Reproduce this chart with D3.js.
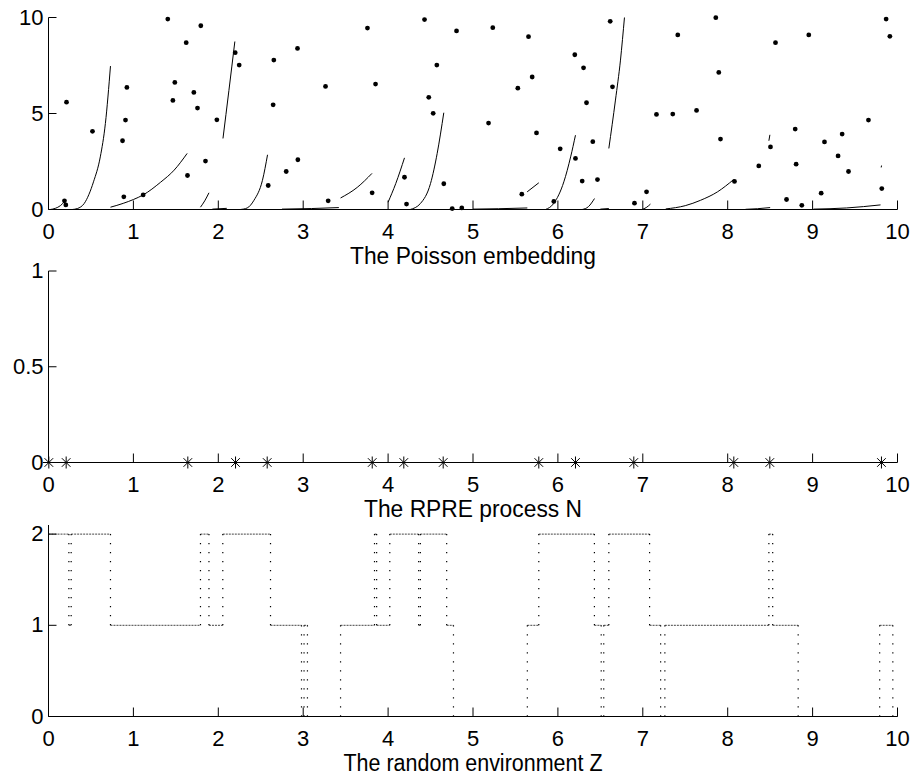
<!DOCTYPE html>
<html>
<head>
<meta charset="utf-8">
<script src="https://cdn.jsdelivr.net/npm/d3@7"></script>
<style>
  body { margin: 0; background: #fff; }
  svg { display: block; }
  text { font-family: "Liberation Sans", Arial, Helvetica, sans-serif; fill: #000; }
</style>
</head>
<body>
<svg id="chart" width="914" height="778"></svg>
<script>
// ---- data ----------------------------------------------------------------
const xTicks = [0, 1, 2, 3, 4, 5, 6, 7, 8, 9, 10];

// Poisson points of the embedding (time, height)
const pointT = [0.212, 0.188, 0.204, 0.518, 0.923, 0.907, 0.872, 0.887, 1.115, 1.405,
  1.794, 1.622, 1.488, 1.465, 1.712, 1.755, 1.637, 1.849, 1.983, 2.199,
  2.246, 2.654, 2.646, 2.933, 2.937, 2.80, 2.588, 3.263, 3.294, 3.757,
  3.852, 3.812, 4.193, 4.217, 4.429, 4.806, 4.574, 4.479, 4.531, 4.656,
  4.755, 4.868, 5.233, 5.654, 5.183, 5.697, 5.528, 5.748, 5.575, 5.952,
  6.027, 6.199, 6.302, 6.337, 6.411, 6.207, 6.286, 6.466, 6.616, 6.643,
  6.902, 7.044, 7.161, 7.353, 7.412, 7.86, 7.895, 7.633, 7.915, 8.08,
  8.563, 8.955, 8.366, 8.504, 8.795, 8.806, 8.693, 8.873, 9.14, 9.348,
  9.30, 9.423, 9.101, 9.658, 9.815, 9.866, 9.91];
const pointH = [5.59, 0.45, 0.24, 4.07, 6.36, 4.66, 3.58, 0.66, 0.76, 9.92,
  9.57, 8.69, 6.62, 5.68, 6.10, 5.28, 1.77, 2.52, 4.67, 8.17,
  7.52, 7.78, 5.45, 8.39, 2.59, 1.98, 1.25, 6.41, 0.45, 9.45,
  6.53, 0.87, 1.68, 0.28, 9.89, 9.30, 7.52, 5.84, 5.01, 1.34,
  0.05, 0.08, 9.47, 9.00, 4.50, 6.90, 6.32, 3.99, 0.80, 0.42,
  3.16, 8.06, 7.38, 5.56, 3.53, 2.66, 1.48, 1.56, 9.80, 6.39,
  0.33, 0.92, 4.95, 4.97, 9.09, 9.99, 7.14, 5.16, 3.67, 1.46,
  8.69, 9.09, 2.27, 3.26, 4.19, 2.36, 0.52, 0.22, 3.52, 3.93,
  2.79, 1.98, 0.85, 4.66, 1.09, 9.92, 9.02];

// Integrated intensity arcs between the points (time, level)
const intensityArcs = [
  [[0.02, 0], [0.08, 0.06], [0.14, 0.2], [0.19, 0.42]],
  [[0.28, 0], [0.34, 0.05], [0.42, 0.31], [0.53, 1.44], [0.61, 2.74], [0.67, 4.48], [0.73, 7.47]],
  [[0.73, 0.12], [0.88, 0.32], [1.0, 0.52], [1.115, 0.76], [1.32, 1.42], [1.48, 2.05], [1.633, 2.92]],
  [[1.79, 0.12], [1.84, 0.45], [1.89, 0.87]],
  [[1.93, 0.02], [2.1, 0.06]],
  [[2.055, 3.7], [2.125, 6.2], [2.195, 8.75]],
  [[2.26, 0], [2.34, 0.08], [2.42, 0.48], [2.52, 1.52], [2.58, 2.85]],
  [[2.75, 0.02], [3.1, 0.05], [3.42, 0.1]],
  [[3.44, 0.6], [3.636, 1.15], [3.81, 1.88]],
  [[4.0, 0.38], [4.09, 1.35], [4.193, 2.69]],
  [[4.26, 0], [4.38, 0.31], [4.5, 1.36], [4.578, 2.92], [4.656, 5.04]],
  [[5.0, 0.02], [5.3, 0.04], [5.64, 0.08]],
  [[5.638, 0.92], [5.775, 1.39]],
  [[5.854, 0], [5.95, 0.31], [6.07, 1.44], [6.15, 2.74], [6.207, 3.87]],
  [[6.286, 0], [6.36, 0.15], [6.431, 0.57]],
  [[6.5, 0.02], [6.6, 0.05]],
  [[6.6, 3.18], [6.678, 5.7], [6.737, 7.78], [6.784, 10.0]],
  [[6.99, 0], [7.04, 0.1], [7.09, 0.28]],
  [[7.27, 0.03], [7.5, 0.2], [7.68, 0.48], [7.88, 0.92], [8.07, 1.56]],
  [[8.21, 0.01], [8.35, 0.04], [8.5, 0.1]],
  [[8.485, 3.58], [8.497, 3.89]],
  [[9.01, 0.02], [9.4, 0.08], [9.8, 0.24]],
  [[9.808, 2.19], [9.812, 2.29]]
];

// Jump times of the RPRE process N
const jumpTimes = [0.004, 0.208, 1.641, 2.203, 2.576, 3.813, 4.185, 4.649,
  5.775, 6.207, 6.894, 8.072, 8.496, 9.811];

// Random environment Z: switching times and the level held from each one
const envTimes = [0, 0.24, 0.267, 0.73, 1.79, 1.89, 2.053, 2.615, 2.98, 3.01, 3.05,
  3.44, 3.84, 3.865, 4.02, 4.36, 4.38, 4.69, 4.77, 5.64, 5.775, 6.43, 6.51, 6.54,
  6.60, 7.08, 7.21, 7.26, 8.485, 8.53, 8.83, 9.79, 9.945];
const envLevels = [2, 1, 2, 1, 2, 1, 2, 1, 0, 1, 0,
  1, 2, 1, 2, 1, 2, 1, 0, 1, 2, 1, 0, 1,
  2, 1, 0, 1, 2, 1, 0, 1, 0];
const envEnd = 10;

const panelTitles = ["The Poisson embedding", "The RPRE process N", "The random environment Z"];

// ---- layout ----------------------------------------------------------------
const svg = d3.select("#chart");
const x = d3.scaleLinear().domain([0, 10]).range([48.5, 897.5]);

const panels = [
  { domain: [0, 10],  range: [209.5, 17.5],  yTicks: [0, 5, 10], titleWidth: 246 },
  { domain: [0, 1],   range: [462.5, 271],   yTicks: [0, 0.5, 1], titleWidth: 218 },
  { domain: [0, 2.1], range: [716.5, 525],   yTicks: [0, 1, 2], titleWidth: 259 }
];
panels.forEach(p => { p.y = d3.scaleLinear().domain(p.domain).range(p.range); });

const TICK_FS = 22;
const LABEL_FS = 23;

const dataLayer = svg.append("g");
const axisLayer = svg.append("g");

function drawAxes(p, title) {
  const base = p.range[0];
  const gx = axisLayer.append("g")
    .attr("transform", `translate(0,${base})`)
    .call(d3.axisBottom(x).tickValues(xTicks).tickFormat(d => String(d))
      .tickSizeInner(-9).tickSizeOuter(0).tickPadding(13.4).offset(0));
  const gy = axisLayer.append("g")
    .attr("transform", `translate(${x(0)},0)`)
    .call(d3.axisLeft(p.y).tickValues(p.yTicks).tickFormat(d => String(d))
      .tickSizeInner(-8).tickSizeOuter(0).tickPadding(5).offset(0));
  [gx, gy].forEach(g => {
    g.attr("font-size", TICK_FS).attr("font-family", null);
    g.selectAll("path, line").attr("stroke", "#000").attr("stroke-width", 1);
    g.selectAll("text").attr("fill", "#000");
  });
  axisLayer.append("text")
    .attr("x", (x.range()[0] + x.range()[1]) / 2)
    .attr("y", base + 54)
    .attr("text-anchor", "middle")
    .attr("font-size", LABEL_FS)
    .attr("textLength", p.titleWidth)
    .attr("lengthAdjust", "spacingAndGlyphs")
    .text(title);
}

panels.forEach((p, i) => drawAxes(p, panelTitles[i]));

// ---- panel 1: Poisson embedding -------------------------------------------
const p1 = panels[0];
const arcLine = d3.line().x(d => x(d[0])).y(d => p1.y(d[1])).curve(d3.curveMonotoneX);
dataLayer.append("g").selectAll("path")
  .data(intensityArcs).join("path")
  .attr("d", arcLine)
  .attr("fill", "none").attr("stroke", "#000").attr("stroke-width", 1);

dataLayer.append("g").selectAll("circle")
  .data(d3.range(pointT.length)).join("circle")
  .attr("cx", i => x(pointT[i]))
  .attr("cy", i => p1.y(pointH[i]))
  .attr("r", 2.4)
  .attr("fill", "#000");

// ---- panel 2: jump times as asterisks ----------------------------------
const p2 = panels[1];
const s = 6, dgl = 4.3;
const star = `M${-s},0H${s}M0,${-s}V${s}M${-dgl},${-dgl}L${dgl},${dgl}M${-dgl},${dgl}L${dgl},${-dgl}`;
dataLayer.append("g").selectAll("path")
  .data(jumpTimes).join("path")
  .attr("transform", d => `translate(${x(d)},${p2.y(0)})`)
  .attr("d", star)
  .attr("fill", "none").attr("stroke", "#000").attr("stroke-width", 1);

// ---- panel 3: step path of the environment, dotted ----------------------
const p3 = panels[2];
const envSegs = envTimes.map((t, i) => ({
  t0: t,
  t1: i + 1 < envTimes.length ? envTimes[i + 1] : envEnd,
  v: envLevels[i]
}));
dataLayer.append("g").selectAll("line")
  .data(envSegs).join("line")
  .attr("x1", d => x(d.t0)).attr("x2", d => x(d.t1))
  .attr("y1", d => p3.y(d.v)).attr("y2", d => p3.y(d.v))
  .attr("stroke", "#444").attr("stroke-width", 1)
  .attr("stroke-dasharray", "2,1");
dataLayer.append("g").selectAll("line")
  .data(envSegs.slice(1).map((d, i) => ({ t: d.t0, from: envSegs[i].v, to: d.v })))
  .join("line")
  .attr("x1", d => x(d.t)).attr("x2", d => x(d.t))
  .attr("y1", d => p3.y(d.from)).attr("y2", d => p3.y(d.to))
  .attr("stroke", "#000").attr("stroke-width", 1.2)
  .attr("stroke-dasharray", "1.2,7.8");
</script>
</body>
</html>
